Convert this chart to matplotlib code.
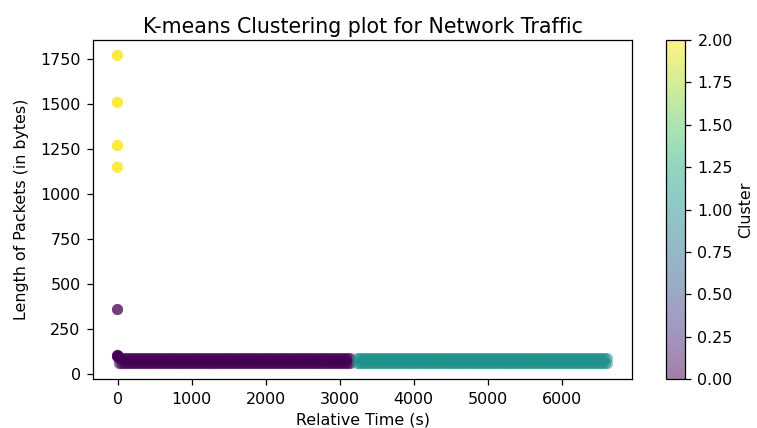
import matplotlib
matplotlib.use("Agg")
import matplotlib.pyplot as plt
import numpy as np

# cluster 0: early traffic (small packets), a few larger ones right at t=0
# each timestamp carries two packets (c0_len_a, c0_len_b)
c0_time = [
    0, 2, 5, 9, 0,
    24, 49, 75, 101, 124, 150, 176, 199, 225, 251,
    274, 300, 326, 349, 375, 401, 424, 450, 476, 499,
    525, 551, 574, 600, 626, 649, 675, 701, 724, 750,
    776, 799, 825, 851, 874, 900, 926, 949, 975, 1001,
    1024, 1050, 1076, 1099, 1125, 1151, 1174, 1200, 1226, 1249,
    1275, 1301, 1324, 1350, 1376, 1399, 1425, 1451, 1474, 1500,
    1526, 1549, 1575, 1601, 1624, 1650, 1676, 1699, 1725, 1751,
    1774, 1800, 1826, 1849, 1875, 1901, 1924, 1950, 1976, 1999,
    2025, 2051, 2074, 2100, 2126, 2149, 2175, 2201, 2224, 2250,
    2276, 2299, 2325, 2351, 2374, 2400, 2426, 2449, 2475, 2501,
    2524, 2550, 2576, 2599, 2625, 2651, 2674, 2700, 2726, 2749,
    2775, 2801, 2824, 2850, 2876, 2899, 2925, 2951, 2974, 3000,
    3026, 3049, 3075, 3101, 3124, 3150,
]
c0_len_a = [
    104, 106, 100, 102, 360,
    60, 88, 60, 88, 60, 88, 60, 88, 60, 88,
    60, 88, 60, 88, 60, 88, 60, 88, 60, 88,
    60, 88, 60, 88, 60, 88, 60, 88, 60, 88,
    60, 88, 60, 88, 60, 88, 60, 88, 60, 88,
    60, 88, 60, 88, 60, 88, 60, 88, 60, 88,
    60, 88, 60, 88, 60, 88, 60, 88, 60, 88,
    60, 88, 60, 88, 60, 88, 60, 88, 60, 88,
    60, 88, 60, 88, 60, 88, 60, 88, 60, 88,
    60, 88, 60, 88, 60, 88, 60, 88, 60, 88,
    60, 88, 60, 88, 60, 88, 60, 88, 60, 88,
    60, 88, 60, 88, 60, 88, 60, 88, 60, 88,
    60, 88, 60, 88, 60, 88, 60, 88, 60, 88,
    60, 88, 60, 88, 60, 88,
]
c0_len_b = [
    98, 104, 96, 100, 360,
    88, 60, 88, 60, 88, 60, 88, 60, 88, 60,
    88, 60, 88, 60, 88, 60, 88, 60, 88, 60,
    88, 60, 88, 60, 88, 60, 88, 60, 88, 60,
    88, 60, 88, 60, 88, 60, 88, 60, 88, 60,
    88, 60, 88, 60, 88, 60, 88, 60, 88, 60,
    88, 60, 88, 60, 88, 60, 88, 60, 88, 60,
    88, 60, 88, 60, 88, 60, 88, 60, 88, 60,
    88, 60, 88, 60, 88, 60, 88, 60, 88, 60,
    88, 60, 88, 60, 88, 60, 88, 60, 88, 60,
    88, 60, 88, 60, 88, 60, 88, 60, 88, 60,
    88, 60, 88, 60, 88, 60, 88, 60, 88, 60,
    88, 60, 88, 60, 88, 60, 88, 60, 88, 60,
    88, 60, 88, 60, 88, 60,
]

# cluster 1: later traffic (small packets), two packets per timestamp
c1_time = [
    3240, 3266, 3290, 3315, 3341, 3365, 3390, 3416, 3440,
    3465, 3491, 3515, 3540, 3566, 3590, 3615, 3641, 3665, 3690,
    3716, 3740, 3765, 3791, 3815, 3840, 3866, 3890, 3915, 3941,
    3965, 3990, 4016, 4040, 4065, 4091, 4115, 4140, 4166, 4190,
    4215, 4241, 4265, 4290, 4316, 4340, 4365, 4391, 4415, 4440,
    4466, 4490, 4515, 4541, 4565, 4590, 4616, 4640, 4665, 4691,
    4715, 4740, 4766, 4790, 4815, 4841, 4865, 4890, 4916, 4940,
    4965, 4991, 5015, 5040, 5066, 5090, 5115, 5141, 5165, 5190,
    5216, 5240, 5265, 5291, 5315, 5340, 5366, 5390, 5415, 5441,
    5465, 5490, 5516, 5540, 5565, 5591, 5615, 5640, 5666, 5690,
    5715, 5741, 5765, 5790, 5816, 5840, 5865, 5891, 5915, 5940,
    5966, 5990, 6015, 6041, 6065, 6090, 6116, 6140, 6165, 6191,
    6215, 6240, 6266, 6290, 6315, 6341, 6365, 6390, 6416, 6440,
    6465, 6491, 6515, 6540, 6566, 6590, 6618,
]
c1_len_a = [
    88, 60, 88, 60, 88, 60, 88, 60, 88,
    60, 88, 60, 88, 60, 88, 60, 88, 60, 88,
    60, 88, 60, 88, 60, 88, 60, 88, 60, 88,
    60, 88, 60, 88, 60, 88, 60, 88, 60, 88,
    60, 88, 60, 88, 60, 88, 60, 88, 60, 88,
    60, 88, 60, 88, 60, 88, 60, 88, 60, 88,
    60, 88, 60, 88, 60, 88, 60, 88, 60, 88,
    60, 88, 60, 88, 60, 88, 60, 88, 60, 88,
    60, 88, 60, 88, 60, 88, 60, 88, 60, 88,
    60, 88, 60, 88, 60, 88, 60, 88, 60, 88,
    60, 88, 60, 88, 60, 88, 60, 88, 60, 88,
    60, 88, 60, 88, 60, 88, 60, 88, 60, 88,
    60, 88, 60, 88, 60, 88, 60, 88, 60, 88,
    60, 88, 60, 88, 60, 88, 60,
]
c1_len_b = [
    60, 88, 60, 88, 60, 88, 60, 88, 60,
    88, 60, 88, 60, 88, 60, 88, 60, 88, 60,
    88, 60, 88, 60, 88, 60, 88, 60, 88, 60,
    88, 60, 88, 60, 88, 60, 88, 60, 88, 60,
    88, 60, 88, 60, 88, 60, 88, 60, 88, 60,
    88, 60, 88, 60, 88, 60, 88, 60, 88, 60,
    88, 60, 88, 60, 88, 60, 88, 60, 88, 60,
    88, 60, 88, 60, 88, 60, 88, 60, 88, 60,
    88, 60, 88, 60, 88, 60, 88, 60, 88, 60,
    88, 60, 88, 60, 88, 60, 88, 60, 88, 60,
    88, 60, 88, 60, 88, 60, 88, 60, 88, 60,
    88, 60, 88, 60, 88, 60, 88, 60, 88, 60,
    88, 60, 88, 60, 88, 60, 88, 60, 88, 60,
    88, 60, 88, 60, 88, 60, 88,
]

# cluster 2: large packets at the start of the capture
c2_time = [0, 0, 0, 0, 0, 0, 0, 0, 0, 0, 0, 0]
c2_len = [1770, 1770, 1770, 1510, 1510, 1510, 1270, 1270, 1270, 1150, 1150, 1150]

time = np.array(c0_time + c0_time + c1_time + c1_time + c2_time, dtype=float)
length = np.array(c0_len_a + c0_len_b + c1_len_a + c1_len_b + c2_len, dtype=float)
cluster = np.concatenate([
    np.full(2 * len(c0_time), 0),
    np.full(2 * len(c1_time), 1),
    np.full(len(c2_time), 2),
])

fs = 11.4
plt.rcParams.update({
    "font.size": fs,
    "axes.linewidth": 0.9,
    "xtick.major.width": 0.9,
    "ytick.major.width": 0.9,
    "xtick.major.size": 4,
    "ytick.major.size": 4,
    "xtick.major.pad": 5,
    "ytick.major.pad": 5,
})

fig = plt.figure(figsize=(7.57, 4.28), dpi=100)
ax = fig.add_axes([93 / 757, 1 - 379 / 428, (632 - 93) / 757, (379 - 40) / 428])
sc = ax.scatter(time, length, c=cluster, cmap="viridis", alpha=0.5, s=64,
                linewidths=0)
ax.set_title("K-means Clustering plot for Network Traffic", fontsize=14.8, pad=5)
ax.set_xlabel("Relative Time (s)", fontsize=fs)
ax.set_ylabel("Length of Packets (in bytes)", fontsize=fs, labelpad=8)

cax = fig.add_axes([666 / 757, 1 - 379 / 428, 19 / 757, (379 - 40) / 428])
cb = fig.colorbar(sc, cax=cax)
cb.set_label("Cluster", fontsize=fs)

fig.savefig("out.png", dpi=100)
